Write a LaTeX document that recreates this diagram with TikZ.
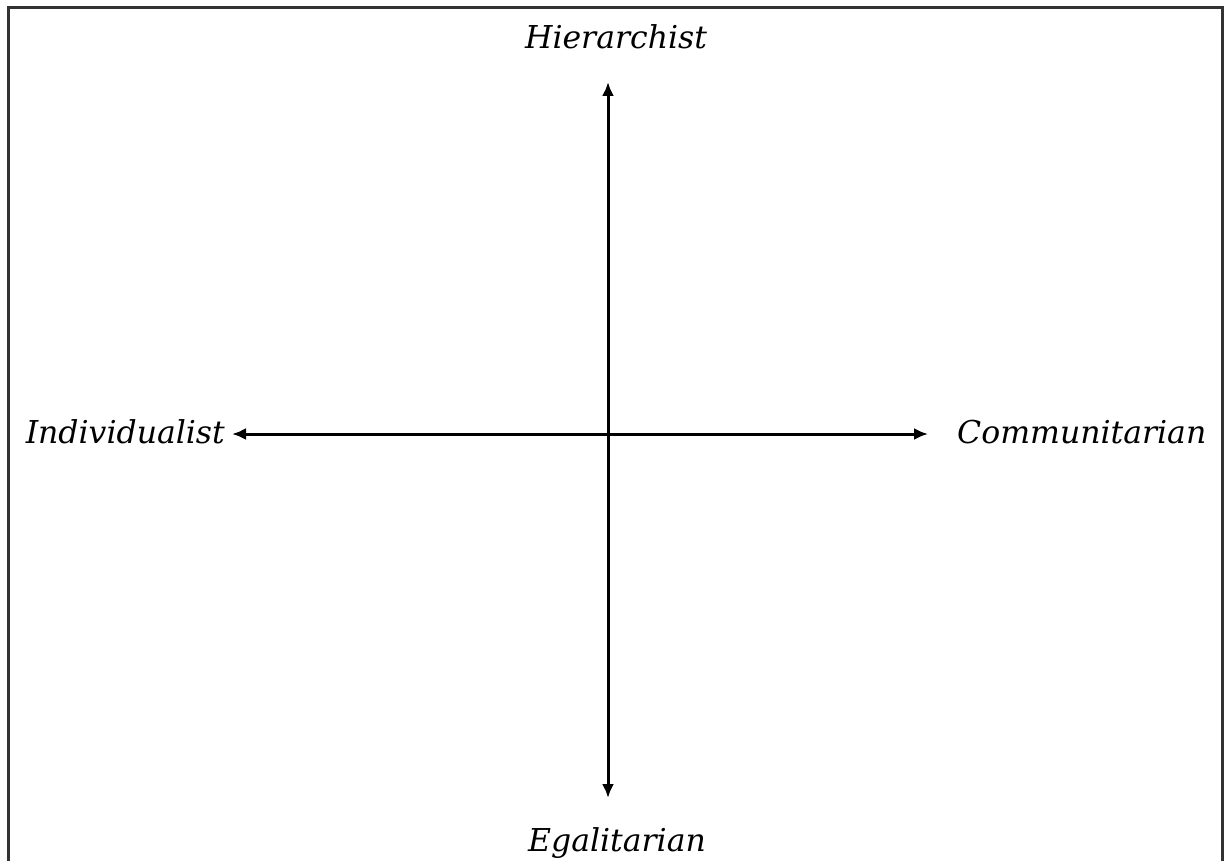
\documentclass[tikz,border=0pt]{standalone}
\usepackage{fontspec}
\setmainfont{DejaVu Serif}
\usetikzlibrary{arrows.meta}
\begin{document}
\begin{tikzpicture}[x=1pt,y=-1pt,
  axis/.style={line width=3pt,-{Latex[length=14pt,width=12pt]}},
  lbl/.style={font=\fontsize{31.5}{34}\selectfont\itshape,inner sep=0pt}]
\useasboundingbox (0,0) rectangle (1230,861);
\begin{scope}
\clip (0,0) rectangle (1230,861);
\draw[line width=3pt,black!80] (8,8) rectangle (1222,880);
\end{scope}
\coordinate (o) at (608,434);
\coordinate (top) at (608,82);
\coordinate (bot) at (608,798);
\coordinate (lft) at (232,434);
\coordinate (rgt) at (928,434);
\draw[axis] (o) -- (top);
\draw[axis] (o) -- (bot);
\draw[axis] (o) -- (lft);
\draw[axis] (o) -- (rgt);
\node[lbl,anchor=base] (h) at (616,49) {Hierarchist};
\node[lbl,anchor=base] (e) at (617,851) {Egalitarian};
\node[lbl,anchor=base east] (i) at (225,443) {Individualist};
\node[lbl,anchor=base west] (c) at (957,443) {Communitarian};
\end{tikzpicture}
\end{document}
